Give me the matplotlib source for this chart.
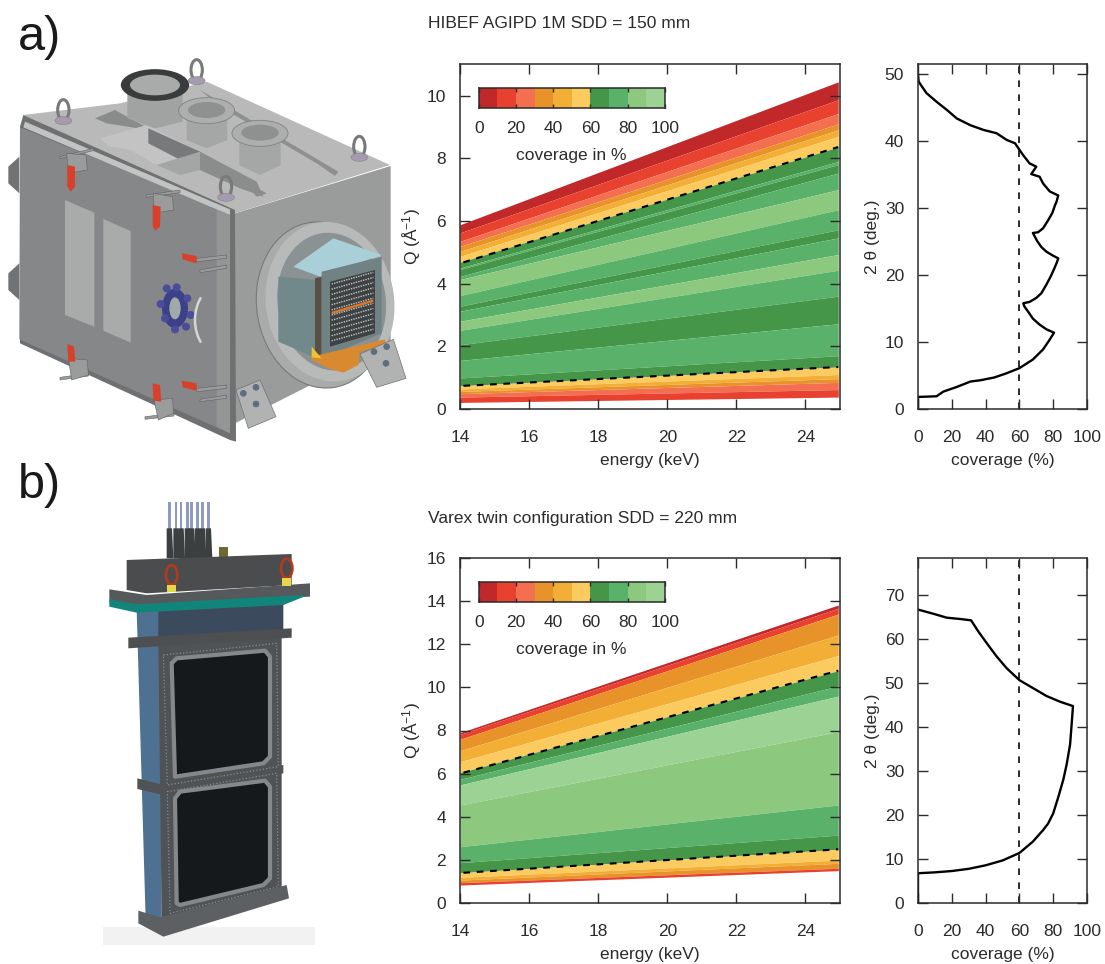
import matplotlib
matplotlib.use('Agg')
import matplotlib.pyplot as plt
from matplotlib.patches import Polygon, Ellipse, Arc

plt.rcParams['font.family'] = ['Liberation Sans', 'DejaVu Sans']
plt.rcParams['mathtext.fontset'] = 'custom'
plt.rcParams['mathtext.rm'] = 'Liberation Sans'
plt.rcParams['mathtext.default'] = 'regular'

W, H = 1105, 964
INK = '#2b2b2b'
FS = 12.5

# Data
bar_colors = ['#c0282a', '#e9412f', '#f36f50', '#e8922a', '#f3af35',
              '#fbcb60', '#459649', '#5ab26a', '#8cc97f', '#9dd295']
bar_values = [0, 10, 20, 30, 40, 50, 60, 70, 80, 90]
bar_ticks = [0, 20, 40, 60, 80, 100]

energy_ends = [14, 24.95]

agipd_q14 = [5.88, 5.62, 5.35, 5.19, 5.03, 4.87, 4.68, 4.50, 4.45, 4.23, 4.13, 3.62, 3.28,
             3.12, 2.80, 2.51, 2.05, 1.55, 0.99, 0.74, 0.64, 0.56, 0.49, 0.38, 0.21]
agipd_q25 = [10.44, 9.87, 9.43, 9.10, 8.91, 8.70, 8.36, 7.90, 7.80, 7.53, 7.00, 6.36, 5.72,
             5.46, 4.93, 4.43, 3.60, 2.72, 1.70, 1.34, 1.10, 0.97, 0.85, 0.62, 0.38]
agipd_bands = [0, 1, 2, 3, 4, 5, 6, 7, 6, 7, 8, 7, 6, 7, 8, 7, 6, 7, 6, 5, 4, 3, 2, 1]
agipd_dashed = [6, 19]

varex_q14 = [7.90, 7.82, 7.59, 7.06, 6.55, 6.04, 5.73, 5.47, 4.54, 2.60, 1.86, 1.39, 1.18, 1.05, 0.93, 0.82]
varex_q25 = [13.83, 13.68, 13.41, 12.44, 11.48, 10.78, 10.07, 9.60, 7.95, 4.54, 3.14, 2.48, 1.98, 1.83, 1.60, 1.49]
varex_bands = [0, 1, 3, 4, 5, 6, 7, 9, 8, 7, 6, 5, 4, 3, 1]
varex_dashed = [5, 11]

agipd_cov = [0, 0, 11, 15, 23, 31, 37, 45, 52, 60, 68, 74, 77.5, 80.5,
             76, 72, 68, 65, 63, 62.3,
             66, 70, 73, 76, 78.5, 80.5, 82, 83,
             80, 76, 73, 70.5, 68,
             71, 74, 77, 79.5, 81, 82, 83,
             78, 74, 72, 67, 70, 66, 62, 57.4, 52.5, 46.5, 38.7,
             31, 23, 17, 11, 5, 0.4, 0]
agipd_theta = [0, 1.8, 1.9, 2.6, 3.3, 4.1, 4.3, 4.7, 5.3, 6.1, 7.4, 8.9, 10.2, 11.4,
               11.9, 12.6, 13.5, 14.6, 15.3, 15.8,
               16, 16.6, 17.3, 18.6, 19.8, 20.9, 21.8, 22.5,
               22.9, 23.5, 24.2, 25.1, 26.3,
               26.4, 27, 28.2, 29.3, 30.4, 31, 31.9,
               32.5, 33.7, 34.7, 35.1, 36.2, 36.7, 38, 39.7, 40.2, 41.2, 41.7,
               42.4, 43.4, 44.7, 45.9, 47.2, 48.9, 50]

varex_cov = [0, 0, 10, 20, 30, 40, 50, 60, 68, 74, 77, 80, 83, 86, 88, 90, 91, 91.7,
             84, 76, 68, 60, 52.5, 46.5, 40.7, 35.8, 31.4,
             25, 17, 9, 0.4]
varex_theta = [0, 6.7, 6.9, 7.2, 7.7, 8.5, 9.6, 11.3, 13.9, 16.5, 18, 20.3, 24, 28, 31.5, 36, 41, 44.7,
               45.7, 47, 48.8, 50.6, 53.3, 56, 59, 61.6, 64.2,
               64.5, 64.8, 65.7, 66.6]


def px_axes(fig, left, top, right, bottom):
    return fig.add_axes([left / W, 1 - bottom / H, (right - left) / W, (bottom - top) / H])


def frame(ax):
    for s in ax.spines.values():
        s.set_linewidth(1.1)
        s.set_color(INK)
    ax.tick_params(direction='in', top=True, right=True, length=7, width=1.0,
                   labelsize=FS, color=INK, labelcolor=INK)
    ax.tick_params(axis='x', pad=15)
    ax.tick_params(axis='y', pad=10)


def q_panel(fig, top, bottom, ymax, yticks, q14, q25, bands, dashed):
    ax = px_axes(fig, 460, top, 840, bottom)
    for i, c in enumerate(bands):
        ax.fill_between(energy_ends, [q14[i + 1], q25[i + 1]], [q14[i], q25[i]],
                        color=bar_colors[c], lw=0)
    for i in dashed:
        ax.plot([14.1, energy_ends[1]], [q14[i], q25[i]], color='black', lw=1.5, dashes=(3.2, 3.2))
    ax.set_xlim(14, 25)
    ax.set_ylim(0, ymax)
    ax.set_xticks(range(14, 25, 2))
    ax.set_yticks(yticks)
    frame(ax)
    ax.set_xlabel('energy (keV)', fontsize=FS, color=INK, labelpad=6)
    fig.text(412 / W, 1 - (top + bottom) / 2 / H, 'Q (Å$^{-1}$)', rotation=90, fontsize=FS,
             ha='center', va='center', color=INK)

    bar = px_axes(fig, 478.7, top + 23.5, 665, top + 43.5)
    bar.bar(bar_values, [1] * len(bar_values), width=10, align='edge', color=bar_colors)
    bar.set_xlim(0, 100)
    bar.set_ylim(0, 1)
    bar.set_yticks([])
    bar.set_xticks(bar_ticks)
    for s in bar.spines.values():
        s.set_linewidth(1.1)
        s.set_color(INK)
    bar.tick_params(direction='in', top=True, length=3, width=1.0, labelsize=FS, pad=9.5,
                    color=INK, labelcolor=INK)
    fig.text(571.7 / W, 1 - (top + 91.5) / H, 'coverage in %', fontsize=FS,
             ha='center', va='center', color=INK)


def cov_panel(fig, top, bottom, ymax, yticks, cov, theta):
    ax = px_axes(fig, 918, top, 1087, bottom)
    ax.axvline(60, color=INK, lw=1.4, dashes=(3.4, 3.8))
    ax.plot(cov, theta, color='black', lw=1.7, solid_joinstyle='round')
    ax.set_xlim(0, 100)
    ax.set_ylim(0, ymax)
    ax.set_xticks(bar_ticks)
    ax.set_yticks(yticks)
    frame(ax)
    ax.set_xlabel('coverage (%)', fontsize=FS, color=INK, labelpad=6)
    fig.text(872 / W, 1 - (top + bottom) / 2 / H, '2 θ (deg.)', rotation=90, fontsize=FS,
             ha='center', va='center', color=INK)


# Sketches of the two renderings, in zoomed picture coordinates
def poly(ax, pts, color, ox, oy, edge=None, lw=0.0, ls='-'):
    ax.add_patch(Polygon([(ox + x / 3, oy + y / 3) for x, y in pts], closed=True, facecolor=color,
                         edgecolor=edge if edge else color, lw=lw, ls=ls, joinstyle='round'))


def oval(ax, x, y, w, h, color, ox, oy, angle=0, edge=None, lw=0.0):
    ax.add_patch(Ellipse((ox + x / 3, oy + y / 3), w / 3, h / 3, angle=angle, facecolor=color,
                         edgecolor=edge if edge else color, lw=lw))


def draw_chamber(ax):
    o = (0, 50)
    poly(ax, [(705, 490), (1172, 348), (1172, 880), (1080, 930), (705, 1120)], '#9a9c9c', *o)
    poly(ax, [(70, 195), (360, 160), (620, 95), (1170, 345), (705, 490)], '#b8b9b8', *o)
    # ribs on the top plate
    poly(ax, [(285, 205), (345, 180), (800, 430), (770, 440), (720, 385), (560, 310), (445, 240), (320, 220)], '#8a8c8c', *o)
    poly(ax, [(600, 120), (1015, 365), (1005, 378), (950, 340), (780, 240), (660, 170)], '#8e9090', *o)
    poly(ax, [(300, 265), (440, 225), (600, 305), (470, 345), (390, 300), (330, 290)], '#c2c3c2', *o)
    poly(ax, [(445, 235), (600, 305), (600, 360), (445, 280)], '#77797a', *o)
    poly(ax, [(600, 305), (770, 395), (790, 440), (720, 415), (600, 360)], '#8b8d8d', *o)
    poly(ax, [(470, 345), (600, 305), (600, 360), (540, 375)], '#a4a5a5', *o)
    # ports
    poly(ax, [(382, 110), (548, 110), (548, 215), (465, 235), (382, 205)], '#a1a3a3', *o)
    oval(ax, 465, 105, 205, 95, '#3a3b3c', *o)
    oval(ax, 465, 105, 150, 62, '#a9abaa', *o)
    poly(ax, [(560, 185), (682, 185), (682, 270), (620, 295), (560, 270)], '#a5a7a7', *o)
    oval(ax, 620, 182, 168, 78, '#adaeae', *o, edge='#808282', lw=0.6)
    oval(ax, 620, 180, 112, 48, '#8f9191', *o)
    poly(ax, [(718, 258), (842, 258), (842, 345), (780, 375), (718, 345)], '#a5a7a7', *o)
    oval(ax, 780, 250, 168, 78, '#adaeae', *o, edge='#808282', lw=0.6)
    oval(ax, 780, 248, 112, 48, '#8f9191', *o)
    # eye bolts
    for x, y in [(190, 180), (590, 60), (1078, 290), (678, 410)]:
        oval(ax, x, y, 34, 62, 'none', *o, edge='#77797a', lw=2.2)
        oval(ax, x, y + 32, 50, 24, '#a59ab0', *o, edge='#8a8c8c', lw=0.5)
    # door
    poly(ax, [(70, 195), (705, 480), (708, 1175), (690, 1170), (60, 880), (60, 230)], '#6e7071', *o)
    poly(ax, [(60, 232), (690, 490), (690, 1150), (58, 868)], '#858788', *o)
    poly(ax, [(75, 215), (690, 478), (690, 495), (70, 232)], '#c2c3c3', *o)
    poly(ax, [(650, 480), (690, 495), (690, 1150), (650, 1130)], '#949696', *o)
    poly(ax, [(195, 450), (283, 488), (283, 830), (195, 795)], '#a9aaaa', *o)
    poly(ax, [(310, 507), (392, 543), (392, 878), (310, 842)], '#a9aaaa', *o)
    poly(ax, [(25, 350), (58, 320), (58, 430), (25, 400)], '#707273', *o)
    poly(ax, [(25, 670), (58, 640), (58, 750), (25, 720)], '#707273', *o)
    # window and handle
    oval(ax, 525, 775, 78, 118, '#3d4088', *o)
    for x, y in [(500, 715), (530, 712), (562, 745), (572, 795), (558, 830), (525, 838), (495, 805), (482, 762)]:
        oval(ax, x, y, 24, 24, '#4a4d9c', *o)
    oval(ax, 525, 775, 34, 66, '#9eaba8', *o)
    ax.add_patch(Arc((660 / 3, 50 + 810 / 3), 150 / 3, 208 / 3, theta1=130, theta2=230, color='#d5d6d6', lw=1.8))
    # clamps
    for pts in ([(180, 320), (280, 295), (280, 302), (180, 326)],
                [(200, 310), (258, 315), (262, 360), (205, 370)],
                [(440, 435), (540, 420), (540, 428), (440, 442)],
                [(460, 430), (518, 440), (520, 480), (462, 490)],
                [(590, 625), (680, 615), (680, 625), (590, 635)],
                [(600, 660), (680, 645), (680, 655), (600, 668)],
                [(590, 1015), (680, 1005), (680, 1015), (590, 1025)],
                [(600, 1048), (680, 1035), (680, 1045), (600, 1055)],
                [(180, 982), (265, 970), (265, 978), (180, 990)],
                [(205, 925), (262, 930), (265, 975), (215, 990)],
                [(435, 1100), (522, 1090), (522, 1098), (435, 1108)],
                [(462, 1050), (518, 1045), (520, 1090), (475, 1110)]):
        poly(ax, pts, '#9a9c9c', *o, edge='#5f6263', lw=0.4)
    for pts in ([(202, 345), (225, 350), (225, 410), (212, 425), (202, 410)],
                [(458, 465), (482, 470), (480, 530), (466, 542), (458, 530)],
                [(202, 882), (222, 890), (226, 935), (205, 935)],
                [(458, 1000), (480, 1005), (484, 1055), (460, 1052)],
                [(545, 610), (590, 618), (590, 640), (548, 628)],
                [(545, 992), (590, 1000), (590, 1022), (548, 1012)]):
        poly(ax, pts, '#d9402b', *o)
    # flange and detector
    oval(ax, 965, 765, 390, 500, '#a9abab', *o, angle=-8, edge='#777979', lw=0.8)
    oval(ax, 990, 755, 385, 480, '#b8baba', *o, angle=-8)
    oval(ax, 995, 755, 325, 415, '#8b9293', *o, angle=-8)
    poly(ax, [(835, 680), (950, 690), (950, 925), (835, 875)], '#71898a', *o)
    poly(ax, [(880, 650), (1000, 565), (1145, 615), (960, 680)], '#a9d0d8', *o)
    poly(ax, [(945, 685), (965, 680), (965, 925), (945, 915)], '#5a4f45', *o)
    poly(ax, [(965, 665), (1145, 620), (1145, 850), (965, 925)], '#708284', *o)
    poly(ax, [(990, 695), (1125, 660), (1125, 850), (990, 890)], '#3f4243', *o)
    for i in range(12):
        y = 702 + i * 15.5
        ax.plot([995 / 3, 1120 / 3], [50 + y / 3, 50 + (y - 35) / 3], color='#c2c5c5', lw=1.0, dashes=(1, 0.8))
    poly(ax, [(995, 785), (1120, 748), (1120, 756), (995, 793)], '#d8762c', *o)
    poly(ax, [(935, 920), (1155, 868), (1158, 885), (1080, 905), (1075, 945), (1030, 968), (985, 955), (935, 930)], '#d98a2f', *o)
    poly(ax, [(935, 890), (965, 925), (935, 922)], '#f0c332', *o)
    # feet
    poly(ax, [(708, 1020), (780, 990), (828, 1100), (745, 1135)], '#b1b3b3', *o, edge='#707272', lw=0.5)
    poly(ax, [(1080, 912), (1180, 868), (1218, 985), (1130, 1012)], '#b1b3b3', *o, edge='#707272', lw=0.5)
    for x, y in [(730, 1030), (768, 1012), (768, 1062), (1122, 905), (1160, 890), (1158, 940)]:
        oval(ax, x, y, 20, 20, '#5c6f80', *o)


def draw_detector(ax):
    o = (80, 490)
    poly(ax, [(70, 1310), (705, 1310), (705, 1365), (70, 1365)], '#f1f2f1', *o)
    for x in [268, 288, 303, 322, 335, 353, 367, 385]:
        poly(ax, [(x - 4, 35), (x + 4, 35), (x + 4, 120), (x - 4, 120)], '#8e9abf', *o)
        poly(ax, [(x - 8, 115), (x + 8, 115), (x + 12, 205), (x - 8, 205)], '#3c3f40', *o)
    poly(ax, [(418, 170), (445, 170), (445, 200), (418, 200)], '#6c6a32', *o)
    poly(ax, [(140, 210), (635, 192), (635, 285), (200, 310), (140, 300)], '#4a4c4e', *o)
    poly(ax, [(170, 360), (240, 360), (245, 1295), (197, 1290)], '#4f7191', *o)
    poly(ax, [(235, 360), (610, 335), (610, 425), (235, 455)], '#3b4a5d', *o)
    poly(ax, [(88, 298), (200, 315), (690, 280), (690, 320), (170, 345), (88, 335)], '#56595b', *o)
    poly(ax, [(88, 328), (170, 343), (610, 318), (685, 315), (610, 345), (170, 368), (88, 350)], '#118579', *o)
    poly(ax, [(235, 455), (605, 430), (605, 1200), (245, 1290)], '#505355', *o)
    poly(ax, [(145, 443), (635, 415), (635, 443), (145, 475)], '#4d4f51', *o)
    poly(ax, [(172, 865), (250, 885), (610, 825), (610, 850), (250, 915), (172, 897)], '#505254', *o)
    for pts in ([(275, 520), (290, 505), (555, 482), (570, 500), (570, 800), (550, 820), (285, 860)],
                [(285, 925), (300, 905), (555, 872), (570, 890), (570, 1165), (550, 1185), (300, 1245), (290, 1240)]):
        poly(ax, pts, '#16191c', *o, edge='#85888a', lw=3.0)
    for pts in ([(250, 495), (590, 460), (595, 830), (262, 885)],
                [(262, 905), (590, 850), (595, 1190), (270, 1270)]):
        poly(ax, pts, 'none', *o, edge='#8a8d8f', lw=0.9, ls=':')
    poly(ax, [(175, 1262), (240, 1282), (620, 1185), (627, 1225), (250, 1340), (175, 1300)], '#5d6062', *o)
    for x, y in [(275, 255), (620, 235)]:
        oval(ax, x, y, 34, 58, 'none', *o, edge='#b03a20', lw=2.0)
        poly(ax, [(x - 14, y + 30), (x + 14, y + 30), (x + 14, y + 52), (x - 14, y + 52)], '#e6d84a', *o)


fig = plt.figure(figsize=(W / 100, H / 100), dpi=100)

back = fig.add_axes([0, 0, 1, 1])
back.set_xlim(0, W)
back.set_ylim(H, 0)
back.axis('off')
draw_chamber(back)
draw_detector(back)

q_panel(fig, 64.3, 409, 11, range(0, 11, 2), agipd_q14, agipd_q25, agipd_bands, agipd_dashed)
cov_panel(fig, 64.3, 409, 51.5, range(0, 51, 10), agipd_cov, agipd_theta)
q_panel(fig, 558.3, 902.7, 16, range(0, 17, 2), varex_q14, varex_q25, varex_bands, varex_dashed)
cov_panel(fig, 558.3, 902.7, 78.3, range(0, 71, 10), varex_cov, varex_theta)

fig.text(428 / W, 1 - 24 / H, 'HIBEF AGIPD 1M SDD = 150 mm', fontsize=FS, va='center', color=INK)
fig.text(428 / W, 1 - 518 / H, 'Varex twin configuration SDD = 220 mm', fontsize=FS, va='center', color=INK)
fig.text(18 / W, 1 - 38 / H, 'a)', fontsize=35, va='center', color='#1a1a1a')
fig.text(18 / W, 1 - 486 / H, 'b)', fontsize=35, va='center', color='#1a1a1a')

plt.savefig('out.png', dpi=100)
plt.close()
